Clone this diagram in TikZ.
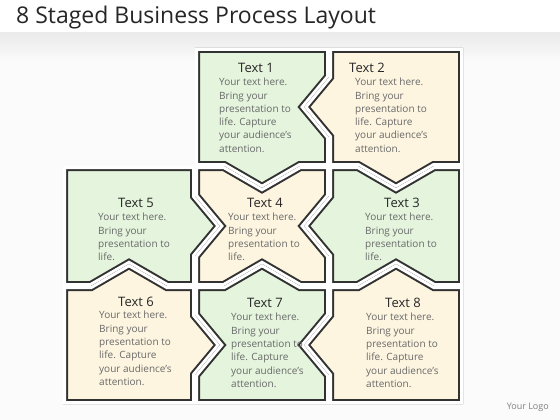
\documentclass[tikz,border=0pt]{standalone}
\usepackage{fontspec}
\setmainfont{Open Sans}
\usepackage{tikz}
\usetikzlibrary{positioning}
\usepackage{xcolor}

\definecolor{pieceGreen}{RGB}{228,244,221}
\definecolor{pieceCream}{RGB}{253,245,224}
\definecolor{edgeGray}{RGB}{50,50,50}
\definecolor{bodyGray}{RGB}{105,105,105}

\tikzset{
  piece edge/.style={draw=edgeGray, line width=10pt, line join=miter},
  piece gap/.style={draw=white, line width=6pt, line join=miter},
  head/.style={text=black!85, font=\fontsize{13}{15}\selectfont, inner sep=0pt},
  body/.style={text=bodyGray, font=\fontsize{10}{13.3}\selectfont, align=left, anchor=north west, inner sep=0pt},
}

% one piece: clip to its outline, fill it, then an inset edge and a white gap
\newcommand{\jigsawpiece}[2]{%
  \begin{scope}
    \clip #2;
    \fill[#1] #2;
    \draw[piece edge] #2;
    \draw[piece gap] #2;
  \end{scope}}

\newcommand{\longtext}{Your text here.\\Bring your\\presentation to\\life. Capture\\your audience's\\attention.}
\newcommand{\shorttext}{Your text here.\\Bring your\\presentation to\\life.}

\begin{document}
\begin{tikzpicture}[x=1pt, y=-1pt]

\useasboundingbox (0,0) rectangle (560,420);

%background
\fill[white] (0,0) rectangle (560,420);
\fill[gray!3] (0,33) rectangle (560,420);
\shade[top color=gray!16, bottom color=gray!3] (0,33) rectangle (560,62);

%title
\node[anchor=west, inner sep=0pt, font=\fontsize{23}{27}\selectfont, text=black!85] (title) at (16,18) {8 Staged Business Process Layout};

%top row
\jigsawpiece{pieceGreen}{(195,48) -- (329,48) -- (329,77) -- (304,107) -- (329,137) -- (329,166) -- (300,166) -- (262,188) -- (224,166) -- (195,166) -- cycle}
\jigsawpiece{pieceCream}{(329,48) -- (463,48) -- (463,166) -- (434,166) -- (396,188) -- (358,166) -- (329,166) -- (329,137) -- (304,107) -- (329,77) -- cycle}

%middle row
\jigsawpiece{pieceGreen}{(63,166) -- (195,166) -- (195,196) -- (220,226) -- (195,256) -- (195,286) -- (167,286) -- (129,264) -- (91,286) -- (63,286) -- cycle}
\jigsawpiece{pieceCream}{(195,166) -- (224,166) -- (262,188) -- (300,166) -- (329,166) -- (329,196) -- (304,226) -- (329,256) -- (329,286) -- (300,286) -- (262,264) -- (224,286) -- (195,286) -- (195,256) -- (220,226) -- (195,196) -- cycle}
\jigsawpiece{pieceGreen}{(329,166) -- (358,166) -- (396,188) -- (434,166) -- (463,166) -- (463,286) -- (434,286) -- (396,264) -- (358,286) -- (329,286) -- (329,256) -- (304,226) -- (329,196) -- cycle}

%bottom row
\jigsawpiece{pieceCream}{(63,286) -- (91,286) -- (129,264) -- (167,286) -- (195,286) -- (195,315) -- (220,345) -- (195,375) -- (195,404) -- (63,404) -- cycle}
\jigsawpiece{pieceGreen}{(195,286) -- (224,286) -- (262,264) -- (300,286) -- (329,286) -- (329,315) -- (304,345) -- (329,375) -- (329,404) -- (195,404) -- (195,375) -- (220,345) -- (195,315) -- cycle}
\jigsawpiece{pieceCream}{(329,286) -- (358,286) -- (396,264) -- (434,286) -- (463,286) -- (463,404) -- (329,404) -- (329,375) -- (304,345) -- (329,315) -- cycle}

%labels
\node[head] (head1) at (256,68) {Text 1};
\node[body] (body1) at (219,78) {\longtext};
\node[head] (head2) at (367,68) {Text 2};
\node[body] (body2) at (355,78) {\longtext};

\node[head] (head5) at (136,203) {Text 5};
\node[body] (body5) at (98,213) {\shorttext};
\node[head] (head4) at (265,203) {Text 4};
\node[body] (body4) at (228,213) {\shorttext};
\node[head] (head3) at (402,203) {Text 3};
\node[body] (body3) at (365,213) {\shorttext};

\node[head] (head6) at (136,302) {Text 6};
\node[body] (body6) at (99,311) {\longtext};
\node[head] (head7) at (265,303) {Text 7};
\node[body] (body7) at (231,313) {\longtext};
\node[head] (head8) at (403,303) {Text 8};
\node[body] (body8) at (366,313) {\longtext};

\node[anchor=east, inner sep=0pt, text=gray, font=\fontsize{9}{11}\selectfont] (logo) at (549,407) {Your Logo};

\end{tikzpicture}
\end{document}
